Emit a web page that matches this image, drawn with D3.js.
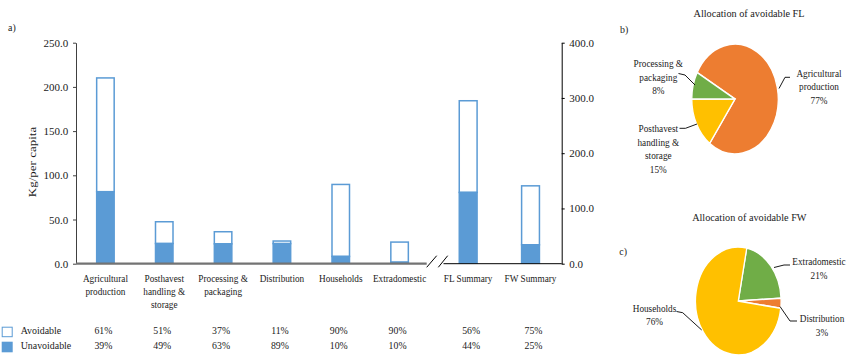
<!DOCTYPE html>
<html>
<head>
<meta charset="utf-8">
<script src="https://cdn.jsdelivr.net/npm/d3@7"></script>
<style>
  html, body { margin: 0; padding: 0; background: #fff; }
  svg { display: block; }
  text { fill: #1a1a1a; font-family: "Liberation Serif", "Times New Roman", serif; }
</style>
</head>
<body>
<svg id="chart" width="847" height="356"></svg>
<script>
// Supply-chain stages (left axis, kg per capita)
const stages = ["Agricultural\nproduction", "Posthavest\nhandling &\nstorage", "Processing &\npackaging",
                "Distribution", "Households", "Extradomestic"];
const stageTotals = [211.0, 48.3, 37.0, 26.5, 90.5, 25.3];
const stageAvoidablePct = [61, 51, 37, 11, 90, 90];
const stageUnavoidablePct = [39, 49, 63, 89, 10, 10];

// Summary bars (right axis)
const summaries = ["FL Summary", "FW Summary"];
const summaryTotals = [296.3, 142.3];
const summaryAvoidablePct = [56, 75];
const summaryUnavoidablePct = [44, 25];

const leftTicks = [0, 50, 100, 150, 200, 250];
const rightTicks = [0, 100, 200, 300, 400];

// Allocation pies
const flLabels = ["Agricultural\nproduction", "Posthavest\nhandling &\nstorage", "Processing &\npackaging"];
const flShares = [77, 15, 8];
const fwLabels = ["Extradomestic", "Distribution", "Households"];
const fwShares = [21, 3, 76];

const BLUE = "#5b9bd5", ORANGE = "#ed7d31", YELLOW = "#ffc000", GREEN = "#70ad47";
const FONT = "Liberation Serif, Times New Roman, serif";
const FS = 11;

const svg = d3.select("#chart");

// text with the narrow horizontal scale used throughout
function txt(g, x, y, str, sx, anchor = "middle", size = FS) {
  return g.append("text")
    .attr("transform", `translate(${x},${y}) scale(${sx},1)`)
    .attr("text-anchor", anchor)
    .attr("font-family", FONT)
    .attr("font-size", size)
    .text(str);
}
function multiline(g, x, y, str, sx, lh, anchor = "middle") {
  str.split("\n").forEach((line, i) => txt(g, x, y + i * lh, line, sx, anchor));
}

// ---------- Panel a: stacked bars ----------
const y0 = 263.7, yTop = 42.7;
const yL = d3.scaleLinear().domain([0, 250]).range([y0, yTop]);
const yR = d3.scaleLinear().domain([0, 400]).range([y0, yTop]);
const xL = d3.scaleBand().domain(stages).range([76, 429]).paddingInner(0.677).paddingOuter(0.3385);
const xR = d3.scaleBand().domain(summaries).range([437, 561.7]).paddingInner(0.69).paddingOuter(0.345);

const a = svg.append("g");

function drawBars(x, y, cats, totals, unavPct) {
  cats.forEach((c, i) => {
    const total = totals[i];
    const unav = total * unavPct[i] / 100;
    const bx = x(c), bw = x.bandwidth();
    // avoidable part: outlined
    a.append("rect")
      .attr("x", bx + 0.75).attr("y", y(total) + 0.75)
      .attr("width", bw - 1.5).attr("height", Math.max(0, y(unav) - y(total)))
      .attr("fill", "#fff").attr("stroke", BLUE).attr("stroke-width", 1.5);
    // unavoidable part: solid
    a.append("rect")
      .attr("x", bx).attr("y", y(unav))
      .attr("width", bw).attr("height", y(0) - y(unav))
      .attr("fill", BLUE);
  });
}
drawBars(xL, yL, stages, stageTotals, stageUnavoidablePct);
drawBars(xR, yR, summaries, summaryTotals, summaryUnavoidablePct);

function styleAxis(ax, color) {
  ax.attr("font-family", FONT).attr("font-size", FS);
  ax.select(".domain").attr("stroke", color);
  ax.selectAll(".tick line").attr("stroke", color);
  ax.selectAll(".tick text").attr("font-family", FONT).attr("font-size", FS).attr("fill", "#1a1a1a");
}

// left axis
const axL = a.append("g").attr("transform", "translate(76,0)")
  .call(d3.axisLeft(yL).tickValues(leftTicks).tickFormat(d3.format(".1f")).tickSize(3).tickSizeOuter(0).tickPadding(4.7));
styleAxis(axL, "#404040");

// right axis
const axR = a.append("g").attr("transform", "translate(561.7,0)")
  .call(d3.axisRight(yR).tickValues(rightTicks).tickFormat(d3.format(".1f")).tickSize(3).tickSizeOuter(0).tickPadding(4.6));
styleAxis(axR, "#000");

// broken baseline
a.append("line").attr("x1", 76).attr("x2", 426.7).attr("y1", y0).attr("y2", y0)
  .attr("stroke", "#737373").attr("stroke-width", 2.2);
a.append("line").attr("x1", 443.5).attr("x2", 561.7).attr("y1", y0).attr("y2", y0)
  .attr("stroke", "#000").attr("stroke-width", 1);
[[426.7, 436.7], [438.3, 447.7]].forEach(([x1, x2]) =>
  a.append("line").attr("x1", x1).attr("y1", 267.3).attr("x2", x2).attr("y2", 255.7)
    .attr("stroke", "#000").attr("stroke-width", 1));

// y label
a.append("text")
  .attr("transform", "translate(36,162) scale(0.8,1) rotate(-90)")
  .attr("text-anchor", "middle").attr("font-family", FONT).attr("font-size", 13).text("Kg/per capita");
txt(a, 8, 31, "a)", 0.9, "start");

// category labels
const LH = 12.7;
stages.forEach(s => multiline(a, xL(s) + xL.bandwidth() / 2, 282.3, s, 0.84, LH));
summaries.forEach(s => multiline(a, xR(s) + xR.bandwidth() / 2, 282.3, s, 0.84, LH));

// table rows
a.append("rect").attr("x", 2.2).attr("y", 327.2).attr("width", 10).attr("height", 9.5)
  .attr("fill", "#fff").attr("stroke", BLUE).attr("stroke-width", 1);
a.append("rect").attr("x", 1.7).attr("y", 341.7).attr("width", 11).attr("height", 10.6).attr("fill", BLUE);
txt(a, 20.7, 334, "Avoidable", 0.9, "start");
txt(a, 20.7, 349, "Unavoidable", 0.9, "start");
stages.forEach((s, i) => {
  const cx = xL(s) + xL.bandwidth() / 2 - 2;
  txt(a, cx, 334, stageAvoidablePct[i] + "%", 0.89);
  txt(a, cx, 349, stageUnavoidablePct[i] + "%", 0.89);
});
summaries.forEach((s, i) => {
  const cx = xR(s) + xR.bandwidth() / 2 + 3;
  txt(a, cx, 334, summaryAvoidablePct[i] + "%", 0.89);
  txt(a, cx, 349, summaryUnavoidablePct[i] + "%", 0.89);
});

// ---------- Pies ----------
function drawPie(cx, cy, rx, ry, shares, colors, startDeg) {
  const start = startDeg * Math.PI / 180;
  const arcs = d3.pie().sort(null).startAngle(start).endAngle(start + 2 * Math.PI)(shares);
  const g = svg.append("g").attr("transform", `translate(${cx},${cy}) scale(${rx / ry},1)`);
  g.selectAll("path").data(arcs).join("path")
    .attr("d", d3.arc().innerRadius(0).outerRadius(ry))
    .attr("fill", (d, i) => colors[i])
    .attr("stroke", "#fff").attr("stroke-width", 1.6);
}
function leader(pts) {
  svg.append("path").attr("d", d3.line()(pts)).attr("fill", "none")
    .attr("stroke", "#000").attr("stroke-width", 0.9);
}

// b) avoidable FL — last slice ends on the 9 o'clock line
const b = svg.append("g");
txt(b, 749, 17, "Allocation of avoidable FL", 0.93);
txt(b, 620, 32.5, "b)", 0.9, "start");
drawPie(735, 99, 43.2, 55, flShares, [ORANGE, YELLOW, GREEN], -90 + 3.6 * flShares[2]);
multiline(b, 819, 76.5, flLabels[0] + "\n" + flShares[0] + "%", 0.84, 13.6);
multiline(b, 658.3, 132, flLabels[1] + "\n" + flShares[1] + "%", 0.84, 13.6);
multiline(b, 658.3, 67.3, flLabels[2] + "\n" + flShares[2] + "%", 0.84, 13.4);
leader([[790, 77.3], [785, 77.3], [779, 88.5]]);
leader([[679.5, 128.3], [685.5, 128.3], [697, 124]]);
leader([[678.5, 73.5], [685, 75], [695, 85]]);

// c) avoidable FW
const c = svg.append("g");
txt(c, 749.3, 220.5, "Allocation of avoidable FW", 0.93);
txt(c, 619.3, 254.5, "c)", 0.9, "start");
const fwStart = 90 - 3.6 * fwShares[0] - 3;
drawPie(738.3, 301, 42.8, 54, fwShares, [GREEN, ORANGE, YELLOW], fwStart);
multiline(c, 819, 264.5, fwLabels[0] + "\n" + fwShares[0] + "%", 0.84, 14.2);
multiline(c, 822, 321.5, fwLabels[1] + "\n" + fwShares[1] + "%", 0.84, 14);
multiline(c, 654.5, 312, fwLabels[2] + "\n" + fwShares[2] + "%", 0.84, 13.4);
leader([[774, 267.5], [784, 265], [790, 265]]);
leader([[780, 306.5], [790, 321], [797, 321]]);
leader([[676.5, 311.5], [682.7, 312.7], [701.7, 330]]);
</script>
</body>
</html>
